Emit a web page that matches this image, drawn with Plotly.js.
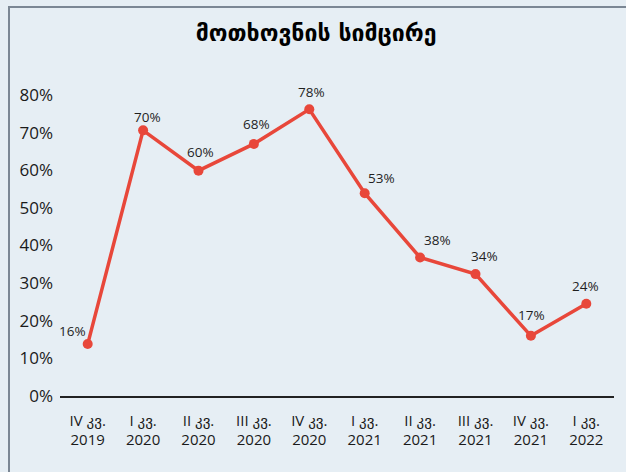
<!DOCTYPE html>
<html>
<head>
<meta charset="utf-8">
<script src="https://cdn.plot.ly/plotly-3.0.1.min.js"></script>
<style>
  html, body { margin: 0; padding: 0; background: #E6EEF4; }
  #wrap { position: relative; width: 626px; height: 472px; }
  #chart { width: 626px; height: 472px; }
  #frame { position: absolute; left: 8px; top: 6px; width: 640px; height: 500px;
           border-left: 2px solid #7B8794; border-top: 2px solid #7B8794; pointer-events: none; }
</style>
</head>
<body>
<div id="wrap">
  <div id="chart"></div>
  <div id="frame"></div>
</div>
<script>
// Categories (quarters)
var categories = ["IV კვ.<br>2019", "I კვ.<br>2020", "II კვ.<br>2020", "III კვ.<br>2020", "IV კვ.<br>2020",
                  "I კვ.<br>2021", "II კვ.<br>2021", "III კვ.<br>2021", "IV კვ.<br>2021", "I კვ.<br>2022"];
var values = [13.8, 70.6, 59.9, 67.0, 76.2, 53.9, 36.8, 32.4, 16.0, 24.5];
// Data labels as printed on the chart
var labels = ["16%", "70%", "60%", "68%", "78%", "53%", "38%", "34%", "17%", "24%"];
var yTicks = [0, 10, 20, 30, 40, 50, 60, 70, 80];
var yTickText = ["0%", "10%", "20%", "30%", "40%", "50%", "60%", "70%", "80%"];
var titleText = "მოთხოვნის სიმცირე";

// Label placement (pixel offsets of each label from its point) - layout only
var labelDX = [-15, 4, 2, 3, 2, 17, 17, 9, 1, -1];
var labelDY = [13, 13, 19, 20, 17, 15, 18, 18, 21, 18];

var trace = {
  x: categories,
  y: values,
  type: "scatter",
  mode: "lines+markers",
  line: { color: "#E8473A", width: 3.5 },
  marker: { color: "#E8473A", size: 10 },
  cliponaxis: false,
  hoverinfo: "x+y"
};

var annotations = categories.map(function (c, i) {
  return {
    x: c, y: values[i], xref: "x", yref: "y",
    text: labels[i], showarrow: false,
    xanchor: "center", yanchor: "middle",
    xshift: labelDX[i], yshift: labelDY[i],
    font: { family: "Open Sans, Noto Sans, sans-serif", size: 13.5, color: "#1f1f1f" }
  };
});

var layout = {
  width: 626,
  height: 472,
  paper_bgcolor: "#E6EEF4",
  plot_bgcolor: "#E6EEF4",
  margin: { l: 60, r: 12, t: 95, b: 76 },
  showlegend: false,
  annotations: annotations,
  title: {
    text: "<b>" + titleText + "</b>",
    font: { family: "DejaVu Sans, sans-serif", size: 23, color: "#000000" },
    x: 0.505, xanchor: "center",
    y: 0.93, yanchor: "middle"
  },
  xaxis: {
    type: "category",
    range: [-0.5, 9.5],
    showgrid: false,
    zeroline: false,
    showline: true,
    linecolor: "#222222",
    linewidth: 1.5,
    ticks: "",
    ticklabelstandoff: 10,
    tickfont: { family: "Open Sans, Noto Sans, DejaVu Sans, sans-serif", size: 15, color: "#1a1a1a" },
    fixedrange: true
  },
  yaxis: {
    range: [0, 80],
    tickvals: yTicks,
    ticktext: yTickText,
    showgrid: false,
    zeroline: false,
    showline: false,
    ticks: "",
    ticklabelstandoff: 6,
    tickfont: { family: "Open Sans, Noto Sans, sans-serif", size: 17, color: "#1a1a1a" },
    fixedrange: true
  }
};

Plotly.newPlot("chart", [trace], layout, { displayModeBar: false, staticPlot: true });
</script>
</body>
</html>
